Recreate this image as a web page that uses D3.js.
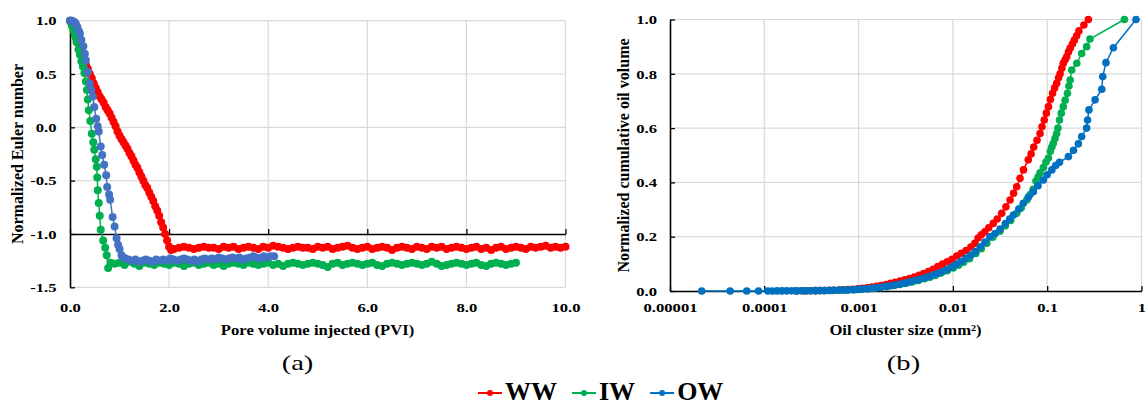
<!DOCTYPE html>
<html>
<head>
<meta charset="utf-8">
<script src="https://cdn.jsdelivr.net/npm/d3@7"></script>
<style>
  body { margin: 0; background: #fff; }
  svg { display: block; }
</style>
</head>
<body>
<div id="chart"></div>
<script>
// series names and colours
const seriesNames = ["WW", "IW", "OW"];
const eulerColors = ["#ff0000", "#00b050", "#4472c4"];
const clusterColors = ["#ff0000", "#00b050", "#0070c0"];

// (a) normalized Euler number vs pore volume injected
const wwPvi = [0.00,0.04,0.08,0.12,0.16,0.20,0.24,0.28,0.32,0.36,0.40,0.44,0.48,0.52,0.56,0.60,0.64,0.68,0.72,0.76,
  0.80,0.84,0.88,0.92,0.96,1.00,1.04,1.08,1.12,1.16,1.20,1.24,1.28,1.32,1.36,1.40,1.44,1.48,1.52,1.56,
  1.60,1.64,1.68,1.72,1.76,1.80,1.84,1.88,1.92,1.96,2.00,2.04,
  2.1,2.2,2.3,2.4,2.5,2.6,2.7,2.8,2.9,3.0,3.1,3.2,3.3,3.4,3.5,3.6,3.7,3.8,3.9,4.0,
  4.1,4.2,4.3,4.4,4.5,4.6,4.7,4.8,4.9,5.0,5.1,5.2,5.3,5.4,5.5,5.6,5.7,5.8,5.9,6.0,
  6.1,6.2,6.3,6.4,6.5,6.6,6.7,6.8,6.9,7.0,7.1,7.2,7.3,7.4,7.5,7.6,7.7,7.8,7.9,8.0,
  8.1,8.2,8.3,8.4,8.5,8.6,8.7,8.8,8.9,9.0,9.1,9.2,9.3,9.4,9.5,9.6,9.7,9.8,9.9,10.0];
const wwEuler = [1.00,0.96,0.90,0.84,0.79,0.73,0.68,0.63,0.59,0.55,0.50,0.46,0.41,0.37,0.33,0.29,0.26,0.23,0.19,0.16,
  0.13,0.09,0.05,0.01,-0.04,-0.08,-0.11,-0.14,-0.17,-0.20,-0.24,-0.27,-0.31,-0.35,-0.38,-0.42,-0.46,-0.50,-0.54,-0.57,
  -0.61,-0.65,-0.69,-0.74,-0.78,-0.83,-0.89,-0.94,-1.00,-1.06,-1.12,-1.15,
  -1.14,-1.13,-1.12,-1.13,-1.14,-1.13,-1.12,-1.13,-1.13,-1.14,-1.12,-1.13,-1.12,-1.14,-1.13,-1.12,-1.13,-1.14,-1.12,-1.13,
  -1.11,-1.12,-1.13,-1.14,-1.13,-1.12,-1.13,-1.13,-1.14,-1.12,-1.13,-1.12,-1.14,-1.13,-1.12,-1.11,-1.13,-1.14,-1.13,-1.12,
  -1.14,-1.13,-1.12,-1.13,-1.15,-1.13,-1.12,-1.13,-1.14,-1.12,-1.13,-1.14,-1.12,-1.13,-1.12,-1.14,-1.13,-1.12,-1.13,-1.14,
  -1.13,-1.12,-1.14,-1.13,-1.15,-1.13,-1.12,-1.14,-1.13,-1.12,-1.13,-1.14,-1.12,-1.13,-1.12,-1.11,-1.13,-1.12,-1.13,-1.12];

const iwPvi = [0.00,0.02,0.04,0.07,0.10,0.13,0.17,0.20,0.23,0.26,0.29,0.32,0.34,0.36,0.38,0.41,0.44,0.47,0.49,0.52,
  0.54,0.55,0.56,0.58,0.60,0.62,0.67,0.71,0.74,0.77,0.82,
  0.9,1.0,1.1,1.2,1.3,1.4,1.5,1.6,1.7,1.8,1.9,2.0,2.1,2.2,2.3,2.4,2.5,2.6,2.7,2.8,
  2.9,3.0,3.1,3.2,3.3,3.4,3.5,3.6,3.7,3.8,3.9,4.0,4.1,4.2,4.3,4.4,4.5,4.6,4.7,4.8,
  4.9,5.0,5.1,5.2,5.3,5.4,5.5,5.6,5.7,5.8,5.9,6.0,6.1,6.2,6.3,6.4,6.5,6.6,6.7,6.8,
  6.9,7.0,7.1,7.2,7.3,7.4,7.5,7.6,7.7,7.8,7.9,8.0,8.1,8.2,8.3,8.4,8.5,8.6,8.7,8.8,8.9,9.0];
const iwEuler = [1.00,0.98,0.95,0.91,0.86,0.80,0.73,0.68,0.62,0.57,0.51,0.43,0.35,0.26,0.16,0.06,-0.06,-0.14,-0.21,-0.30,
  -0.37,-0.47,-0.59,-0.71,-0.83,-0.96,-1.06,-1.13,-1.20,-1.32,-1.27,
  -1.28,-1.27,-1.29,-1.26,-1.28,-1.30,-1.27,-1.28,-1.29,-1.27,-1.28,-1.29,-1.27,-1.28,-1.30,-1.28,-1.27,-1.29,-1.28,-1.27,
  -1.29,-1.28,-1.30,-1.28,-1.27,-1.28,-1.29,-1.27,-1.28,-1.29,-1.28,-1.27,-1.29,-1.28,-1.30,-1.28,-1.27,-1.28,-1.29,-1.28,
  -1.27,-1.28,-1.29,-1.31,-1.28,-1.27,-1.29,-1.28,-1.27,-1.28,-1.29,-1.28,-1.27,-1.29,-1.30,-1.28,-1.27,-1.28,-1.29,-1.28,
  -1.27,-1.28,-1.29,-1.28,-1.26,-1.28,-1.30,-1.29,-1.28,-1.27,-1.28,-1.29,-1.28,-1.27,-1.29,-1.30,-1.28,-1.27,-1.28,-1.29,-1.28,-1.27];

const owPvi = [0.00,0.02,0.04,0.06,0.08,0.10,0.12,0.15,0.18,0.20,0.23,0.27,0.30,0.32,0.36,0.40,0.43,0.46,0.49,0.53,
  0.56,0.58,0.62,0.65,0.69,0.73,0.75,0.79,0.81,0.86,0.90,0.94,0.97,1.00,1.04,1.08,1.11,
  1.18,1.25,1.32,1.39,1.46,1.53,1.60,1.67,1.74,1.81,1.88,1.95,2.02,2.09,2.16,2.23,2.30,2.37,2.44,2.51,
  2.58,2.65,2.72,2.79,2.86,2.93,3.00,3.07,3.14,3.21,3.28,3.35,3.42,3.49,3.56,3.63,3.70,3.77,3.84,3.91,
  3.98,4.05,4.12];
const owEuler = [1.00,1.00,1.00,0.99,0.99,0.98,0.97,0.94,0.90,0.88,0.82,0.76,0.69,0.63,0.52,0.41,0.35,0.29,0.19,0.08,
  0.01,-0.04,-0.18,-0.26,-0.35,-0.45,-0.56,-0.63,-0.68,-0.84,-0.93,-1.04,-1.10,-1.14,-1.20,-1.22,-1.23,
  -1.24,-1.25,-1.24,-1.26,-1.25,-1.24,-1.25,-1.26,-1.24,-1.25,-1.24,-1.25,-1.23,-1.24,-1.25,-1.24,-1.23,-1.24,-1.25,-1.24,
  -1.26,-1.24,-1.23,-1.24,-1.23,-1.24,-1.22,-1.23,-1.24,-1.23,-1.22,-1.23,-1.22,-1.24,-1.23,-1.22,-1.21,-1.22,-1.23,-1.21,
  -1.22,-1.21,-1.21];

// (b) normalized cumulative oil volume vs oil cluster size (mm2)
const wwSize = [0.00022,0.00026,0.00031,0.00035,0.00039,0.00044,0.00049,0.00055,0.00062,0.00069,
  0.00077,0.00087,0.00098,0.00109,0.00123,0.00138,0.00155,0.00173,0.00195,0.00219,
  0.00245,0.00275,0.00309,0.00347,0.00389,0.00437,0.00490,0.00550,0.00617,0.00692,
  0.00776,0.00871,0.00977,0.0110,0.0123,0.0138,0.0155,0.0171,0.0185,0.0200,
  0.0218,0.0240,0.0268,0.0295,0.0329,0.0365,0.0404,0.0440,0.0475,0.0515,
  0.0560,0.0630,0.0675,0.0720,0.0780,0.0840,0.0880,0.0930,0.0980,0.1030,
  0.1080,0.1140,0.1200,0.1260,0.1320,0.1370,0.1430,0.1480,0.1550,0.1610,
  0.1680,0.1750,0.1850,0.1940,0.2050,0.2170,0.2450,0.2730];
const wwCum = [0.0002,0.0005,0.0009,0.0012,0.0015,0.0019,0.0024,0.0030,0.0037,0.0045,
  0.0054,0.0065,0.0080,0.0095,0.0118,0.0145,0.0175,0.0205,0.0240,0.0280,
  0.0320,0.0365,0.0410,0.0460,0.0515,0.0575,0.0640,0.0715,0.0800,0.0900,
  0.0990,0.1080,0.1170,0.1290,0.1390,0.1490,0.1620,0.1760,0.1950,0.2070,
  0.2180,0.2330,0.2490,0.2650,0.2860,0.3100,0.3350,0.3600,0.3840,0.4150,
  0.4460,0.4830,0.5050,0.5300,0.5550,0.5800,0.6050,0.6300,0.6550,0.6790,
  0.7050,0.7280,0.7480,0.7650,0.7850,0.8000,0.8200,0.8390,0.8520,0.8630,
  0.8800,0.8940,0.9100,0.9240,0.9400,0.9580,0.9800,1.0000];

const iwSize = [0.00022,0.00028,0.00035,0.00043,0.00052,0.00063,0.00075,0.00090,0.00105,0.00125,
  0.00145,0.00170,0.00200,0.00235,0.00275,0.00320,0.00370,0.00430,0.00500,0.00570,
  0.00650,0.00750,0.00870,0.0101,0.0115,0.0130,0.0150,0.0175,0.0200,0.0229,
  0.0265,0.0316,0.0360,0.0410,0.0475,0.0530,0.0607,0.0660,0.0710,0.0760,
  0.0800,0.0840,0.0910,0.0970,0.1030,0.1080,0.1120,0.1160,0.1210,0.1260,
  0.1300,0.1350,0.1410,0.1480,0.1550,0.1640,0.1700,0.1750,0.1820,0.2060,
  0.2320,0.2620,0.2840,0.6580];
const iwCum = [0.0001,0.0004,0.0008,0.0013,0.0019,0.0027,0.0036,0.0047,0.0060,0.0078,
  0.0098,0.0125,0.0160,0.0200,0.0240,0.0285,0.0335,0.0390,0.0450,0.0510,
  0.0575,0.0660,0.0750,0.0850,0.0950,0.1060,0.1190,0.1380,0.1560,0.1760,
  0.1980,0.2200,0.2400,0.2600,0.2860,0.3060,0.3350,0.3550,0.3750,0.4050,
  0.4200,0.4350,0.4550,0.4750,0.4900,0.5150,0.5300,0.5440,0.5620,0.5800,
  0.6000,0.6300,0.6550,0.6790,0.7030,0.7280,0.7550,0.7770,0.8140,0.8390,
  0.8750,0.9000,0.9280,1.0000];

const owSize = [0.0000217,0.0000434,0.0000651,0.0000868,0.000109,0.000122,0.000137,0.000154,0.000173,0.000195,
  0.000217,0.000245,0.000275,0.000308,0.000346,0.000388,0.000435,0.000488,0.000548,0.000615,
  0.000690,0.000774,0.000869,0.000975,0.00109,0.00123,0.00138,0.00155,0.00173,0.00195,
  0.00219,0.00245,0.00275,0.00309,0.00347,0.00389,0.00437,0.00490,0.00550,0.00617,
  0.00692,0.00776,0.00871,0.00977,0.0110,0.0123,0.0138,0.0155,0.0174,0.0195,
  0.0219,0.0247,0.0280,0.0316,0.0360,0.0400,0.0438,0.0500,0.0558,0.0630,
  0.0713,0.0800,0.0910,0.1000,0.1120,0.1230,0.1350,0.1680,0.1900,0.2140,
  0.2320,0.2620,0.2680,0.2770,0.3220,0.3790,0.3880,0.4200,0.5030,0.8750];
const owCum = [0.00002,0.00005,0.00009,0.00014,0.0002,0.00025,0.0003,0.00036,0.00043,0.00051,
  0.0006,0.0007,0.0008,0.0010,0.0012,0.0014,0.0017,0.0020,0.0024,0.0028,
  0.0033,0.0039,0.0046,0.0054,0.0068,0.0082,0.0098,0.0115,0.0135,0.0172,
  0.0195,0.0222,0.0255,0.0290,0.0335,0.0375,0.0420,0.0470,0.0525,0.0585,
  0.0650,0.0720,0.0800,0.0890,0.0990,0.1090,0.1200,0.1320,0.1450,0.1630,
  0.1800,0.2000,0.2120,0.2280,0.2480,0.2650,0.2800,0.3020,0.3230,0.3450,
  0.3660,0.3880,0.4090,0.4280,0.4460,0.4620,0.4740,0.4950,0.5180,0.5420,
  0.5690,0.6000,0.6300,0.6670,0.7040,0.7430,0.7900,0.8410,0.8960,1.0000];

// axis ticks and labels
const pviTicks = [0, 2, 4, 6, 8, 10];
const eulerTicks = [-1.5, -1.0, -0.5, 0, 0.5, 1.0];
const sizeTicks = [1e-5, 1e-4, 1e-3, 1e-2, 1e-1, 1];
const sizeTickLabels = ["0.00001", "0.0001", "0.001", "0.01", "0.1", "1"];
const volumeTicks = [0, 0.2, 0.4, 0.6, 0.8, 1.0];

const serif = "'Liberation Serif', 'Times New Roman', serif";
const stretchX = 1.25;

const svg = d3.select("#chart")
    .append("svg")
    .attr("width", 1145)
    .attr("height", 406)
    .style("font-family", serif);

svg.append("rect").attr("width", 1145).attr("height", 406).attr("fill", "#fff");

// draw one series as a line with round markers
function drawSeries(g, xs, ys, x, y, color, r) {
    const n = Math.min(xs.length, ys.length);
    const pts = d3.range(n).map(i => [xs[i], ys[i]]);
    g.append("path")
        .datum(pts)
        .attr("fill", "none")
        .attr("stroke", color)
        .attr("stroke-width", 1.5)
        .attr("d", d3.line().x(d => x(d[0])).y(d => y(d[1])));
    g.append("g")
        .selectAll("circle")
        .data(pts)
        .join("circle")
        .attr("cx", d => x(d[0]))
        .attr("cy", d => y(d[1]))
        .attr("r", r)
        .attr("fill", color);
}

// style tick labels of an axis group
function styleTicks(axisG) {
    axisG.attr("font-family", null).attr("font-size", null);
    axisG.select(".domain").attr("stroke", "#000").attr("stroke-width", 1.6);
    axisG.selectAll(".tick line").attr("stroke", "#000").attr("stroke-width", 1.3);
    axisG.selectAll(".tick text")
        .style("font-size", "13.3px")
        .style("font-weight", "bold")
        .attr("fill", "#000");
}

// horizontal text stretched like the original figure
function label(x, y, txt, size, weight, sx) {
    return svg.append("text")
        .attr("transform", "translate(" + x + "," + y + ") scale(" + sx + ",1)")
        .attr("text-anchor", "middle")
        .style("font-size", size + "px")
        .style("font-weight", weight)
        .text(txt);
}

function yTitle(x, y, txt) {
    svg.append("text")
        .attr("transform", "translate(" + x + "," + y + ") rotate(-90)")
        .attr("text-anchor", "middle")
        .style("font-size", "16px")
        .style("font-weight", "bold")
        .text(txt);
}

// ---------- panel (a) ----------
function drawEulerChart() {
    const x = d3.scaleLinear().domain([0, 10]).range([70, 565.5]);
    const y = d3.scaleLinear().domain([-1.5, 1]).range([287.3, 20.7]);
    const g = svg.append("g");

    // grid lines
    g.append("g").selectAll("line")
        .data(pviTicks.slice(1))
        .join("line")
        .attr("x1", d => x(d)).attr("x2", d => x(d))
        .attr("y1", y(-1.5)).attr("y2", y(1))
        .attr("stroke", "#d9d9d9").attr("stroke-width", 1.2);
    g.append("g").selectAll("line")
        .data(eulerTicks.filter(d => d !== -1.0))
        .join("line")
        .attr("x1", x(0)).attr("x2", x(10))
        .attr("y1", d => y(d)).attr("y2", d => y(d))
        .attr("stroke", "#d9d9d9").attr("stroke-width", 1.2);

    // x axis crossing at -1.0, labels below plot
    const xAxis = g.append("g")
        .attr("transform", "translate(0," + y(-1.0) + ")")
        .call(d3.axisBottom(x).tickValues(pviTicks).tickFormat(d => d.toFixed(1)).tickSizeInner(-5).tickSizeOuter(0));
    styleTicks(xAxis);
    xAxis.selectAll(".tick text")
        .attr("y", y(-1.5) - y(-1.0) + 25)
        .attr("dy", null)
        .attr("transform", "scale(" + stretchX + ",1)");

    // y axis
    const yAxis = g.append("g")
        .attr("transform", "translate(" + x(0) + ",0)")
        .call(d3.axisLeft(y).tickValues(eulerTicks).tickFormat(d => d.toFixed(1)).tickSizeInner(-5).tickSizeOuter(0));
    styleTicks(yAxis);
    yAxis.selectAll(".tick text")
        .attr("x", -13.5 / stretchX)
        .attr("transform", "scale(" + stretchX + ",1)");

    // series
    drawSeries(g, wwPvi, wwEuler, x, y, eulerColors[0], 4);
    drawSeries(g, iwPvi, iwEuler, x, y, eulerColors[1], 4);
    drawSeries(g, owPvi, owEuler, x, y, eulerColors[2], 4);

    // titles
    label(317.5, 334.5, "Pore volume injected (PVI)", 14, "bold", 1.19);
    yTitle(23, 154, "Normalized Euler number");
    label(297.5, 370, "(a)", 22, "normal", 1.3);
}

// ---------- panel (b) ----------
function drawClusterChart() {
    const x = d3.scaleLog().domain([1e-5, 1]).range([670, 1141.5]);
    const y = d3.scaleLinear().domain([0, 1]).range([291, 19.5]);
    const g = svg.append("g");

    // grid lines
    g.append("g").selectAll("line")
        .data(sizeTicks.slice(1))
        .join("line")
        .attr("x1", d => x(d)).attr("x2", d => x(d))
        .attr("y1", y(0)).attr("y2", y(1))
        .attr("stroke", "#d9d9d9").attr("stroke-width", 1.2);
    g.append("g").selectAll("line")
        .data(volumeTicks.slice(1))
        .join("line")
        .attr("x1", x(1e-5)).attr("x2", x(1))
        .attr("y1", d => y(d)).attr("y2", d => y(d))
        .attr("stroke", "#d9d9d9").attr("stroke-width", 1.2);

    // x axis
    const xAxis = g.append("g")
        .attr("transform", "translate(0," + y(0) + ")")
        .call(d3.axisBottom(x).tickValues(sizeTicks).tickFormat((d, i) => sizeTickLabels[i]).tickSizeInner(-5).tickSizeOuter(0));
    styleTicks(xAxis);
    xAxis.selectAll(".tick text")
        .attr("y", 21.5)
        .attr("dy", null)
        .attr("transform", "scale(" + stretchX + ",1)");

    // y axis
    const yAxis = g.append("g")
        .attr("transform", "translate(" + x(1e-5) + ",0)")
        .call(d3.axisLeft(y).tickValues(volumeTicks).tickFormat(d => d.toFixed(1)).tickSizeInner(-5).tickSizeOuter(0));
    styleTicks(yAxis);
    yAxis.selectAll(".tick text")
        .attr("x", -13 / stretchX)
        .attr("transform", "scale(" + stretchX + ",1)");

    // series
    drawSeries(g, wwSize, wwCum, x, y, clusterColors[0], 3.8);
    drawSeries(g, iwSize, iwCum, x, y, clusterColors[1], 3.8);
    drawSeries(g, owSize, owCum, x, y, clusterColors[2], 3.8);

    // titles
    label(905.5, 334.5, "Oil cluster size (mm²)", 14, "bold", 1.19);
    yTitle(628.5, 155.5, "Normalized cumulative oil volume");
    label(903.5, 370, "(b)", 22, "normal", 1.3);
}

// ---------- legend ----------
function drawLegend() {
    const legend = svg.append("g").attr("transform", "translate(478,393)");
    let cx = 0;
    seriesNames.forEach((name, i) => {
        const item = legend.append("g").attr("transform", "translate(" + cx + ",0)");
        item.append("line")
            .attr("x1", 0).attr("x2", 24)
            .attr("stroke", clusterColors[i]).attr("stroke-width", 2);
        item.append("circle")
            .attr("cx", 12).attr("r", 3)
            .attr("fill", clusterColors[i]);
        const t = item.append("text")
            .attr("x", 27)
            .attr("y", 7)
            .style("font-size", "26px")
            .style("font-weight", "bold")
            .text(name);
        cx += 27 + t.node().getComputedTextLength() + 15;
    });
}

drawEulerChart();
drawClusterChart();
drawLegend();
</script>
</body>
</html>
